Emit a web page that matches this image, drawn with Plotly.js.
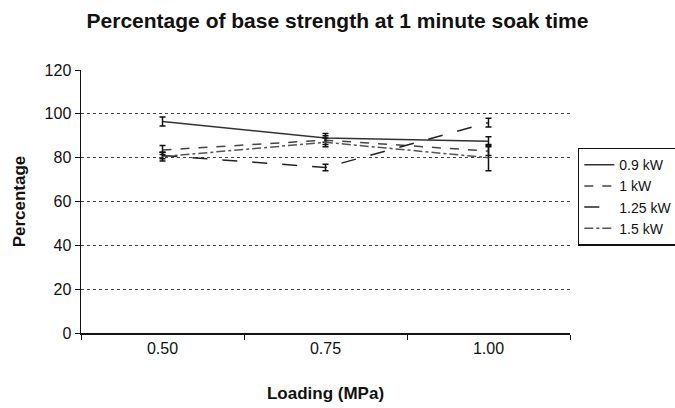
<!DOCTYPE html>
<html>
<head>
<meta charset="utf-8">
<script src="https://cdn.plot.ly/plotly-3.0.1.min.js"></script>
<style>html,body{margin:0;padding:0;background:#fff;}#chart{width:675px;height:408px;}</style>
</head>
<body>
<div id="chart"></div>
<script>
const categories = ["0.50", "0.75", "1.00"];
const seriesNames = ["0.9 kW", "1 kW", "1.25 kW", "1.5 kW"];
const values09 = [96.5, 89, 87.5];
const values1 = [83.5, 88, 83];
const values125 = [81, 75.5, 96];
const values15 = [80.5, 87, 80];
const err09 = [2, 2, 2];
const err1 = [2, 2, 2];
const err125 = [1.5, 1.5, 2];
const err15 = [2, 2, 6];

const allValues = [values09, values1, values125, values15];
const allErr = [err09, err1, err125, err15];
const dashes = ["solid", "dash", "longdash", "dashdot"];
const colors = ["#333", "#444", "#222", "#555"];

const traces = seriesNames.map((name, i) => ({
  type: "scatter",
  mode: "lines",
  name: name,
  x: categories,
  y: allValues[i],
  line: {color: colors[i], width: 1.5, dash: dashes[i]},
  error_y: {type: "data", array: allErr[i], visible: true, color: "#111", thickness: 1.5, width: 3}
}));

const layout = {
  width: 675, height: 408,
  paper_bgcolor: "#fff", plot_bgcolor: "#fff",
  margin: {l: 81, r: 105, t: 70, b: 75, autoexpand: false},
  font: {family: "Liberation Sans, Arial, sans-serif", color: "#111", size: 15},
  title: {text: "<b>Percentage of base strength at 1 minute soak time</b>", x: 0.5, xanchor: "center", y: 0.95, yanchor: "middle", font: {size: 21, color: "#111"}},
  xaxis: {
    type: "category",
    range: [-0.5, 2.5],
    tickson: "boundaries",
    ticks: "outside", ticklen: 5, tickcolor: "#111",
    showline: true, linecolor: "#111", linewidth: 1.5,
    showgrid: false, zeroline: false,
    title: {text: "<b>Loading (MPa)</b>", font: {size: 17}, standoff: 31},
    tickfont: {size: 16}
  },
  yaxis: {
    range: [0, 120], dtick: 20,
    ticks: "outside", ticklen: 5, tickcolor: "#111",
    showline: true, linecolor: "#111", linewidth: 1.5,
    showgrid: true, gridcolor: "#444", griddash: "dot", gridwidth: 1,
    zeroline: false,
    title: {text: "<b>Percentage</b>", font: {size: 17}, standoff: 14},
    tickfont: {size: 16}
  },
  showlegend: true,
  legend: {
    x: 1.016, y: 0.705, xanchor: "left", yanchor: "top",
    bgcolor: "#fff", bordercolor: "#111", borderwidth: 1.5,
    font: {size: 14, color: "#111"},
    tracegroupgap: 0, itemwidth: 30
  }
};

Plotly.newPlot("chart", traces, layout, {displayModeBar: false, staticPlot: true});
</script>
</body>
</html>
